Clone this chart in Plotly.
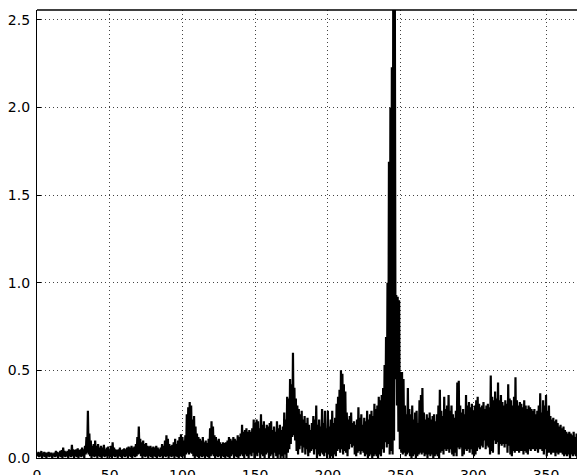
import plotly.graph_objects as go

# Upper (peak) values of the spectrum at integer positions 0..377
peaks = [
    0.03,0.035,0.03,0.04,0.03,0.035,0.03,0.03,0.035,0.03,
    0.03,0.025,0.03,0.04,0.035,0.03,0.04,0.045,0.06,0.04,
    0.035,0.04,0.05,0.045,0.075,0.05,0.045,0.05,0.055,0.045,
    0.05,0.06,0.05,0.07,0.12,0.27,0.14,0.10,0.07,0.08,
    0.10,0.07,0.08,0.06,0.07,0.06,0.075,0.05,0.06,0.065,
    0.05,0.07,0.09,0.06,0.05,0.045,0.05,0.06,0.045,0.05,
    0.055,0.05,0.06,0.065,0.06,0.07,0.06,0.065,0.08,0.12,
    0.18,0.11,0.09,0.10,0.08,0.085,0.07,0.065,0.07,0.06,
    0.065,0.06,0.07,0.06,0.05,0.06,0.08,0.07,0.10,0.13,
    0.11,0.08,0.07,0.075,0.09,0.11,0.08,0.10,0.12,0.135,
    0.12,0.10,0.13,0.25,0.29,0.32,0.30,0.22,0.24,0.18,
    0.14,0.12,0.11,0.10,0.12,0.09,0.10,0.085,0.11,0.17,
    0.21,0.18,0.13,0.12,0.10,0.11,0.09,0.08,0.09,0.085,
    0.09,0.10,0.12,0.11,0.10,0.12,0.11,0.10,0.13,0.12,
    0.14,0.19,0.15,0.16,0.17,0.15,0.16,0.15,0.17,0.22,
    0.20,0.22,0.21,0.17,0.25,0.19,0.21,0.17,0.19,0.18,
    0.20,0.21,0.16,0.18,0.15,0.21,0.17,0.19,0.16,0.18,
    0.26,0.22,0.35,0.34,0.45,0.42,0.60,0.40,0.34,0.30,
    0.28,0.25,0.27,0.22,0.24,0.20,0.23,0.19,0.16,0.20,
    0.24,0.22,0.30,0.19,0.22,0.18,0.28,0.20,0.27,0.17,
    0.27,0.18,0.22,0.27,0.20,0.23,0.31,0.35,0.39,0.50,
    0.48,0.42,0.38,0.26,0.22,0.24,0.26,0.20,0.21,0.19,
    0.22,0.29,0.23,0.25,0.19,0.23,0.21,0.27,0.22,0.25,
    0.27,0.24,0.31,0.28,0.30,0.35,0.33,0.36,0.40,0.53,
    0.69,1.00,1.69,2.00,2.23,3.00,2.90,0.93,0.92,0.90,
    0.49,0.49,0.45,0.30,0.25,0.40,0.28,0.25,0.30,0.22,
    0.26,0.27,0.20,0.33,0.36,0.40,0.26,0.22,0.25,0.23,
    0.26,0.22,0.24,0.25,0.21,0.25,0.30,0.39,0.27,0.24,
    0.35,0.28,0.30,0.36,0.27,0.30,0.25,0.23,0.27,0.43,
    0.44,0.30,0.26,0.28,0.25,0.36,0.30,0.32,0.29,0.31,
    0.27,0.30,0.33,0.35,0.31,0.29,0.30,0.32,0.28,0.30,
    0.31,0.29,0.47,0.35,0.33,0.38,0.34,0.43,0.33,0.36,
    0.32,0.30,0.33,0.31,0.42,0.34,0.33,0.30,0.35,0.46,
    0.33,0.30,0.32,0.31,0.29,0.33,0.30,0.28,0.30,0.29,
    0.28,0.27,0.28,0.25,0.27,0.30,0.37,0.26,0.33,0.30,
    0.36,0.27,0.30,0.24,0.22,0.23,0.21,0.22,0.20,0.18,
    0.19,0.17,0.18,0.16,0.15,0.14,0.15,0.14,0.13,0.15,
    0.12,0.14,0.11,0.10,0.11,0.09,0.10,0.09,
]

# Lower (trough) values between consecutive peaks (at positions i + 0.5)
troughs = [
    0.01,0.005,0.01,0.0,0.01,0.005,0.0,0.01,0.005,0.01,
    0.0,0.01,0.005,0.01,0.0,0.01,0.005,0.0,0.01,0.005,
    0.01,0.0,0.01,0.005,0.01,0.0,0.01,0.005,0.0,0.01,
    0.005,0.01,0.0,0.02,0.03,0.02,0.01,0.0,0.01,0.005,
    0.01,0.0,0.01,0.005,0.0,0.01,0.005,0.01,0.0,0.01,
    0.005,0.0,0.01,0.005,0.01,0.0,0.01,0.005,0.0,0.01,
    0.005,0.01,0.0,0.01,0.005,0.0,0.01,0.005,0.01,0.02,
    0.025,0.01,0.0,0.01,0.005,0.01,0.0,0.01,0.005,0.0,
    0.01,0.005,0.0,0.01,0.005,0.01,0.0,0.01,0.005,0.01,
    0.0,0.01,0.005,0.01,0.0,0.01,0.005,0.0,0.01,0.005,
    0.01,0.0,0.02,0.03,0.02,0.03,0.025,0.01,0.0,0.01,
    0.005,0.0,0.01,0.005,0.01,0.0,0.01,0.005,0.0,0.01,
    0.02,0.01,0.0,0.01,0.005,0.01,0.0,0.01,0.005,0.0,
    0.01,0.005,0.0,0.01,0.02,0.0,0.01,0.005,0.0,0.01,
    0.02,0.01,0.0,0.02,0.01,0.0,0.02,0.01,0.03,0.0,
    0.02,0.01,0.03,0.0,0.02,0.01,0.0,0.02,0.03,0.0,
    0.01,0.02,0.0,0.03,0.01,0.0,0.02,0.0,0.01,0.0,
    0.02,0.0,0.03,0.05,0.08,0.12,0.13,0.10,0.04,0.02,
    0.05,0.07,0.03,0.06,0.02,0.05,0.01,0.03,0.04,0.05,
    0.02,0.05,0.0,0.02,0.01,0.03,0.02,0.01,0.03,0.0,
    0.02,0.0,0.01,0.0,0.02,0.01,0.04,0.05,0.03,0.05,
    0.02,0.04,0.03,0.01,0.05,0.08,0.06,0.07,0.02,0.01,
    0.03,0.04,0.02,0.04,0.03,0.01,0.02,0.0,0.01,0.02,
    0.0,0.01,0.02,0.01,0.0,0.02,0.01,0.05,0.03,0.09,
    0.06,0.08,0.02,0.04,0.02,0.10,0.45,0.30,0.15,0.05,
    0.03,0.02,0.03,0.01,0.02,0.03,0.01,0.0,0.01,0.02,
    0.0,0.01,0.02,0.03,0.02,0.03,0.01,0.02,0.0,0.02,
    0.01,0.02,0.0,0.01,0.02,0.01,0.0,0.03,0.04,0.02,
    0.05,0.04,0.05,0.03,0.05,0.02,0.01,0.03,0.01,0.06,
    0.05,0.06,0.01,0.02,0.05,0.04,0.05,0.03,0.05,0.02,
    0.01,0.02,0.04,0.06,0.05,0.07,0.06,0.10,0.05,0.07,
    0.06,0.02,0.04,0.03,0.10,0.08,0.09,0.02,0.08,0.07,
    0.08,0.06,0.08,0.03,0.07,0.02,0.01,0.04,0.03,0.04,
    0.04,0.03,0.04,0.04,0.02,0.04,0.03,0.02,0.05,0.04,
    0.05,0.05,0.04,0.05,0.03,0.05,0.05,0.04,0.02,0.05,
    0.01,0.03,0.03,0.02,0.03,0.03,0.01,0.03,0.02,0.03,
    0.03,0.02,0.01,0.02,0.01,0.02,0.0,0.02,0.01,0.02,
    0.01,0.0,0.02,0.01,0.0,0.01,0.02,0.01,
]

x_ticks = [0, 50, 100, 150, 200, 250, 300, 350]
y_ticks = [0.0, 0.5, 1.0, 1.5, 2.0, 2.5]
y_tick_labels = ["0.0", "0.5", "1.0", "1.5", "2.0", "2.5"]

xs, ys = [], []
for i, (p, t) in enumerate(zip(peaks, troughs)):
    xs.append(i)
    ys.append(p)
    xs.append(i + 0.5)
    ys.append(t)

fig = go.Figure()
fig.add_trace(go.Scatter(x=xs, y=ys, mode="lines",
                         line=dict(color="black", width=2.2),
                         hoverinfo="skip", showlegend=False))

font = dict(family="DejaVu Sans", size=14, color="black")
grid = dict(showgrid=True, gridcolor="#444", gridwidth=1, griddash="1px,3px")
fig.update_layout(
    # the page body adds an 8px margin, so the figure is sized to end at the window edge
    width=577, height=467,
    margin=dict(l=29, r=0, t=2, b=16.6, autoexpand=False),
    paper_bgcolor="white", plot_bgcolor="white",
    font=font,
    xaxis=dict(range=[0, 376.8], tickvals=x_ticks, ticktext=[str(v) for v in x_ticks],
               ticks="inside", ticklen=4, tickcolor="black", tickwidth=1,
               showline=True, linecolor="black", linewidth=1.3,
               zeroline=False, tickfont=font, automargin=False,
               ticklabelstandoff=4, **grid),
    yaxis=dict(range=[0, 2.556], tickvals=y_ticks, ticktext=y_tick_labels,
               ticks="inside", ticklen=4, tickcolor="black", tickwidth=1,
               showline=True, linecolor="black", linewidth=1.3,
               zeroline=False, tickfont=font, automargin=False,
               ticklabelstandoff=3, **grid),
    shapes=[dict(type="line", xref="paper", yref="paper", x0=0, x1=1, y0=1, y1=1,
                 line=dict(color="black", width=1.3))],
)

fig.write_html("out.html")
